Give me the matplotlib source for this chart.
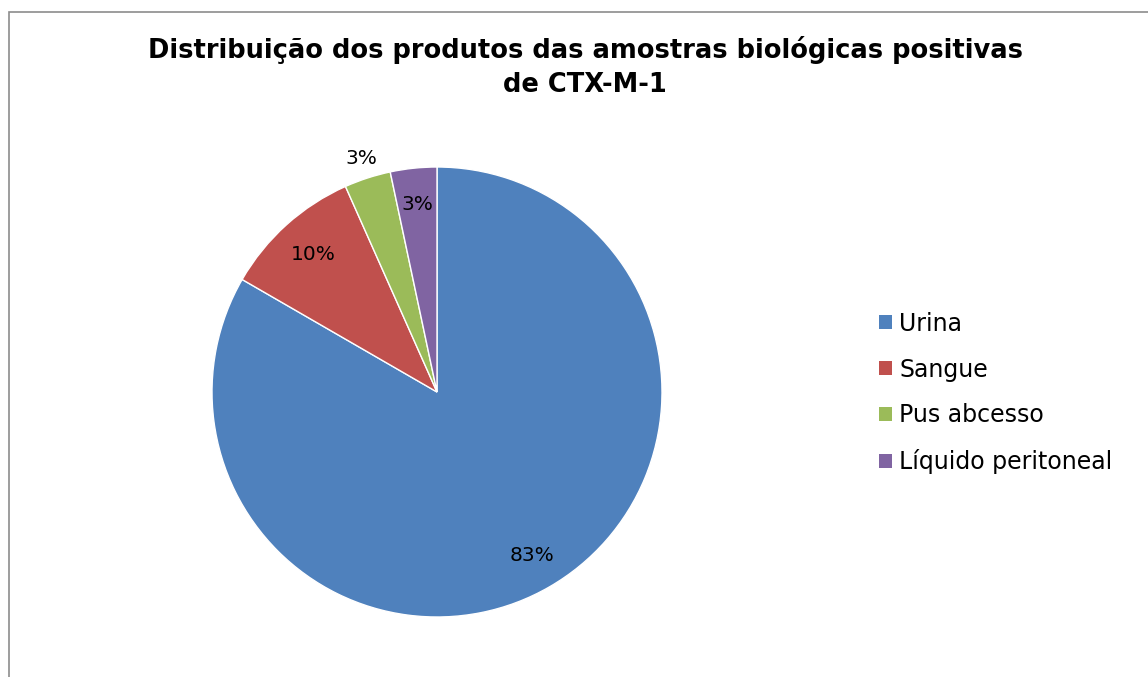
import matplotlib
matplotlib.use("Agg")
import matplotlib.pyplot as plt
from matplotlib.patches import Rectangle, Patch
import numpy as np

categories = ["Urina", "Sangue", "Pus abcesso", "Líquido peritoneal"]
counts = [25, 3, 1, 1]
colors = ["#4F81BD", "#C0504D", "#9BBB59", "#8064A2"]
title = "Distribuição dos produtos das amostras biológicas positivas\nde CTX-M-1"

W, H = 1148, 677
fig = plt.figure(figsize=(W / 100, H / 100), dpi=100)
fig.patch.set_facecolor("white")

# chart area border (partially visible)
fig.patches.append(Rectangle((8.5 / W, -0.1), 1.2, 1 - 11.5 / H + 0.1,
                             transform=fig.transFigure, fill=False,
                             edgecolor="#8c8c8c", linewidth=1.2))

cx, cy, r = 437, 392, 225
ax = fig.add_axes([(cx - r) / W, (H - cy - r) / H, 2 * r / W, 2 * r / H])
wedges, texts, autotexts = ax.pie(
    counts, colors=colors, startangle=90, counterclock=False,
    autopct=lambda p: f"{p:.0f}%", pctdistance=0.84,
    wedgeprops=dict(edgecolor="white", linewidth=1),
    textprops=dict(fontsize=14.5, color="black", family="DejaVu Sans"))
ax.set_xlim(-1, 1)
ax.set_ylim(-1, 1)
ax.set_aspect("equal")
ax.axis("off")

# green label sits just outside the pie
w = wedges[2]
ang = np.deg2rad((w.theta1 + w.theta2) / 2)
autotexts[2].set_position((1.09 * np.cos(ang), 1.09 * np.sin(ang)))
w = wedges[1]
ang = np.deg2rad((w.theta1 + w.theta2) / 2)
autotexts[1].set_position((0.82 * np.cos(ang), 0.82 * np.sin(ang)))

fig.text(585 / W, 1 - 67.5 / H, title, ha="center", va="center",
         fontsize=18.5, fontweight="bold", linespacing=1.4)

handles = [Patch(facecolor=c, edgecolor="none") for c in colors]
fig.legend(handles, categories, loc="center left",
           bbox_to_anchor=(879 / W, 1 - 393 / H), frameon=False,
           fontsize=17, handlelength=0.55, handleheight=0.55,
           handletextpad=0.3, labelspacing=0.93, borderpad=0,
           borderaxespad=0)

fig.savefig("out.png", dpi=100)
